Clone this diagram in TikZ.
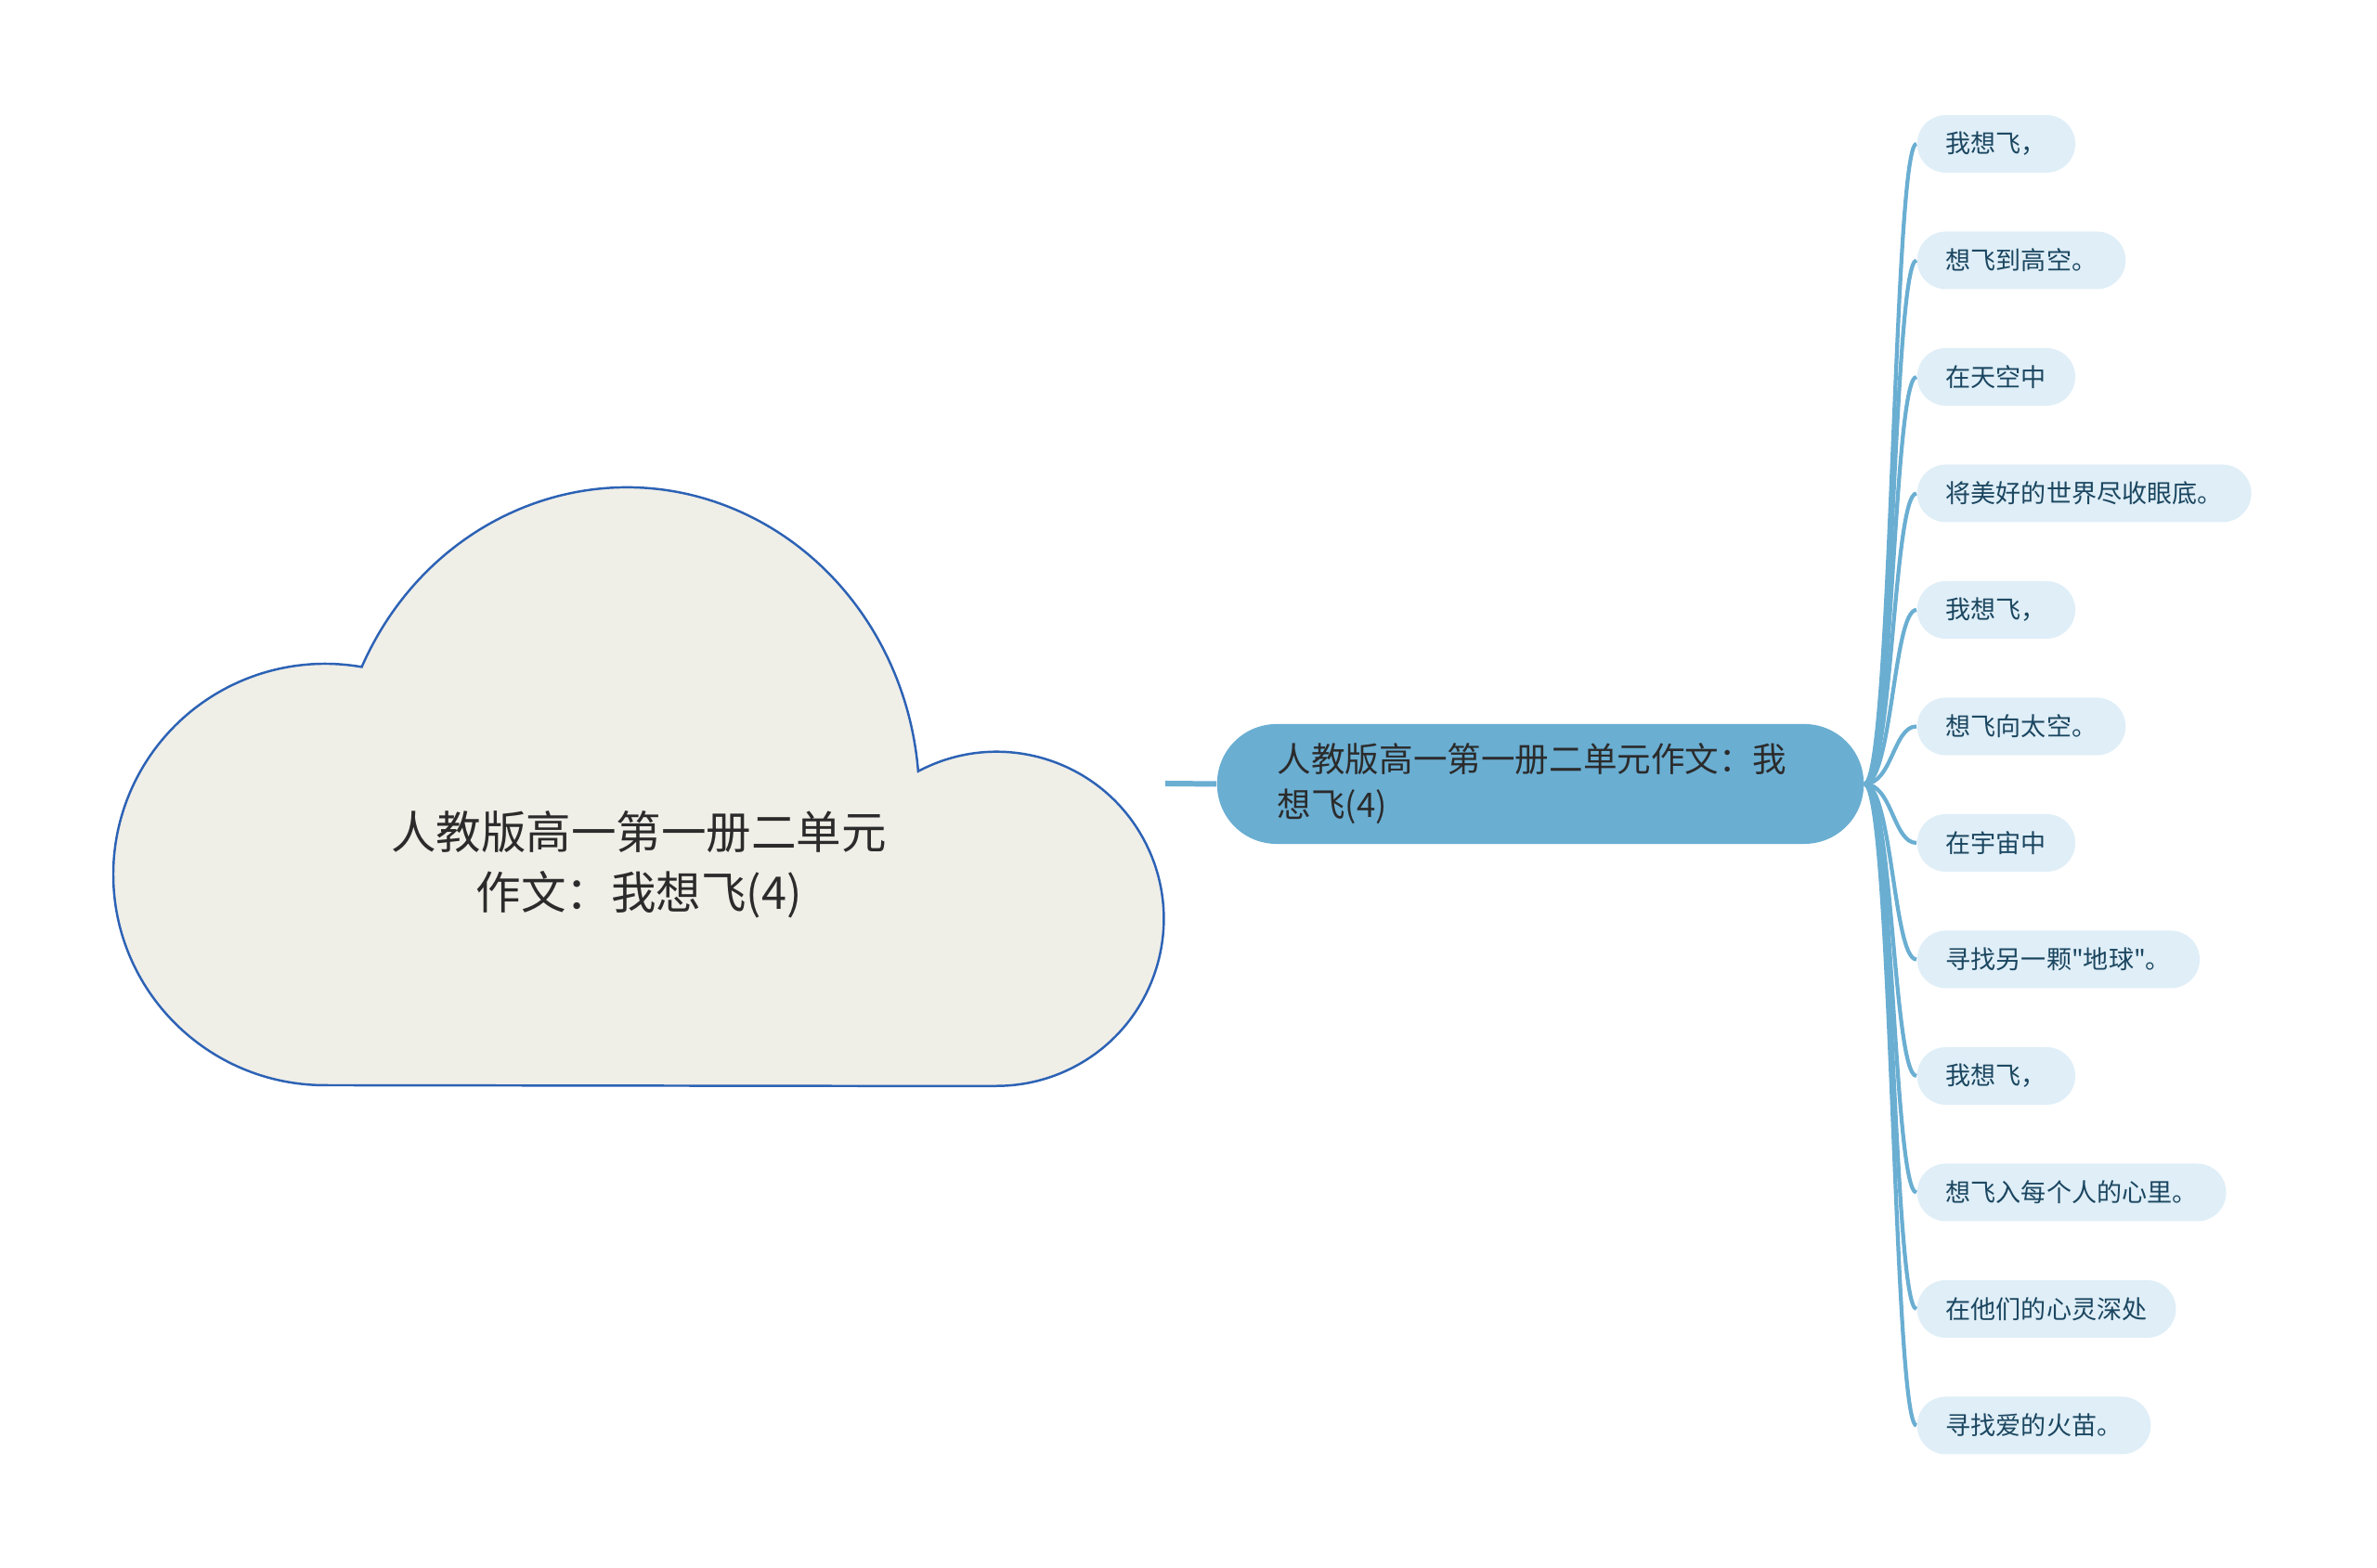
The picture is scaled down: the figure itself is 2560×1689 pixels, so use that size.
\documentclass[tikz,border=0pt]{standalone}
\usepackage{fontspec}
\setmainfont{Noto Sans CJK SC}[Ligatures=TeXOff]
\definecolor{cloudfill}{HTML}{EFEEE7}
\definecolor{cloudline}{HTML}{2C62B5}
\definecolor{linkblue}{HTML}{6AAED2}
\definecolor{leafbg}{HTML}{DFEEF7}
\definecolor{leaftext}{HTML}{1B4660}
\definecolor{darktext}{HTML}{2B2B2B}

\begin{document}
\begin{tikzpicture}[x=0.01cm, y=0.01cm,
		topicbox/.style={fill=linkblue, text=darktext, rounded corners=0.64cm, text width=5.66cm, align=left,
			minimum height=1.29cm, inner xsep=0.65cm, inner ysep=0pt, font=\fontsize{10.4pt}{13.9pt}\selectfont},
		leaf/.style={fill=leafbg, text=leaftext, rounded corners=0.31cm, minimum height=0.62cm,
			inner xsep=0.31cm, inner ysep=0pt, anchor=west, font=\fontsize{7.7pt}{9pt}\selectfont},
		link/.style={draw=linkblue, line width=1.2pt},
		trunk/.style={draw=linkblue, line width=1.7pt}]
				\useasboundingbox (0,0) rectangle (2560,1689);
				
				% Cloud with the title
				\draw[cloudline, fill=cloudfill, line width=0.7pt] (1073,519) -- (350,520)
					arc[start angle=270, end angle=80, x radius=228, y radius=227]
					arc[start angle=155, end angle=5, x radius=315, y radius=335]
					arc[start angle=118, end angle=-90, radius=180] -- cycle;
				\node[text=darktext, align=center, font=\fontsize{13.8pt}{18.4pt}\selectfont] (root) at (688,758)
					{人教版高一第一册二单元\\作文：我想飞(4)};
				\coordinate (cloudR) at (1255,845);
				
				% Main branch
				\node[topicbox] (topic) at (1659,844.5) {人教版高一第一册二单元作文：我\\想飞(4)};
				\draw[trunk] (cloudR) -- (topic.west);
				
				% Leaves
				\node[leaf] (l1) at (2064,1534) {我想飞，};
				\node[leaf] (l2) at (2064,1408.5) {想飞到高空。};
				\node[leaf] (l3) at (2064,1283) {在天空中};
				\node[leaf] (l4) at (2064,1157.5) {将美好的世界尽收眼底。};
				\node[leaf] (l5) at (2064,1032) {我想飞，};
				\node[leaf] (l6) at (2064,906.5) {想飞向太空。};
				\node[leaf] (l7) at (2064,781) {在宇宙中};
				\node[leaf] (l8) at (2064,655.5) {寻找另一颗"地球"。};
				\node[leaf] (l9) at (2064,530) {我想飞，};
				\node[leaf] (l10) at (2064,404.5) {想飞入每个人的心里。};
				\node[leaf] (l11) at (2064,279) {在他们的心灵深处};
				\node[leaf] (l12) at (2064,153.5) {寻找爱的火苗。};
				
				% Connectors to the leaves
				\draw[link] (topic.east) .. controls +(30,0) and +(-25,0) .. (l1.west);
				\draw[link] (topic.east) .. controls +(30,0) and +(-25,0) .. (l2.west);
				\draw[link] (topic.east) .. controls +(30,0) and +(-25,0) .. (l3.west);
				\draw[link] (topic.east) .. controls +(30,0) and +(-25,0) .. (l4.west);
				\draw[link] (topic.east) .. controls +(30,0) and +(-25,0) .. (l5.west);
				\draw[link] (topic.east) .. controls +(30,0) and +(-25,0) .. (l6.west);
				\draw[link] (topic.east) .. controls +(30,0) and +(-25,0) .. (l7.west);
				\draw[link] (topic.east) .. controls +(30,0) and +(-25,0) .. (l8.west);
				\draw[link] (topic.east) .. controls +(30,0) and +(-25,0) .. (l9.west);
				\draw[link] (topic.east) .. controls +(30,0) and +(-25,0) .. (l10.west);
				\draw[link] (topic.east) .. controls +(30,0) and +(-25,0) .. (l11.west);
				\draw[link] (topic.east) .. controls +(30,0) and +(-25,0) .. (l12.west);
			\end{tikzpicture}
\end{document}
